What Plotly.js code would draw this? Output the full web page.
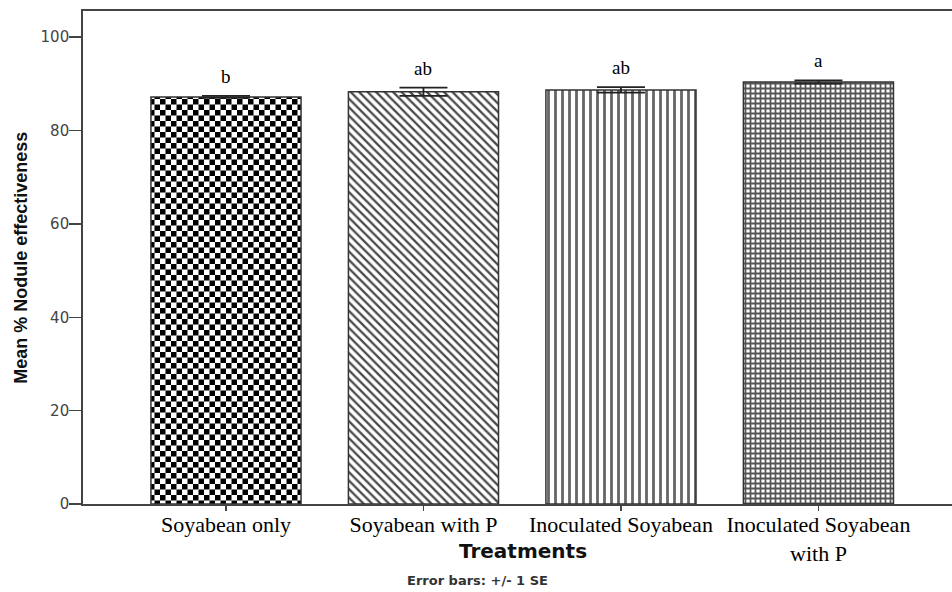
<!DOCTYPE html>
<html>
<head>
<meta charset="utf-8">
<script src="https://cdn.plot.ly/plotly-3.0.1.min.js"></script>
<style>
html,body{margin:0;padding:0;overflow:hidden;background:#fff;}
#chart{width:970px;height:592px;}
</style>
</head>
<body>
<div id="chart"></div>
<script>
// Data
const categories = ["Soyabean only", "Soyabean with P", "Inoculated Soyabean", "Inoculated Soyabean<br>with P"];
const meanValues = [87.2, 88.3, 88.7, 90.4];
const seValues = [0.2, 0.9, 0.6, 0.35];
const groupLetters = ["b", "ab", "ab", "a"];
const yTickVals = [0, 20, 40, 60, 80, 100];

const patternShapes = [".", "\\", "|", "+"];
const patternSizes = [11, 6, 7, 5];
const patternSolidity = [0.5, 0.38, 0.4, 0.58];
const patternFg = ["#000000", "#4a4a4a", "#666666", "#555555"];

const xIdx = categories.map((c, i) => i);

const trace = {
  type: "bar",
  x: xIdx,
  y: meanValues,
  width: 0.76,
  marker: {
    color: "#ffffff",
    line: {color: "#333333", width: 1.5},
    pattern: {
      shape: patternShapes,
      size: patternSizes,
      solidity: patternSolidity,
      fgcolor: patternFg,
      bgcolor: "#ffffff",
      fillmode: "replace"
    }
  },
  error_y: {
    type: "data",
    array: seValues,
    visible: true,
    color: "#222222",
    thickness: 1.8,
    width: 24
  },
  hoverinfo: "none"
};

const letterAnnotations = groupLetters.map((t, i) => ({
  x: i, y: meanValues[i] + seValues[i], xref: "x", yref: "y",
  text: t, showarrow: false, yanchor: "bottom", yshift: 7,
  font: {family: "Liberation Serif, Times New Roman, serif", size: 19, color: "#000"}
}));

const layout = {
  width: 970,
  height: 592,
  margin: {l: 83, r: 7, t: 11, b: 88},
  paper_bgcolor: "#ffffff",
  plot_bgcolor: "#ffffff",
  showlegend: false,
  xaxis: {
    range: [-0.724, 3.732],
    tickmode: "array",
    tickvals: xIdx,
    ticktext: categories,
    ticks: "outside",
    ticklen: 5,
    tickwidth: 1.5,
    tickcolor: "#444",
    ticklabelstandoff: -5,
    showline: true,
    linecolor: "#444",
    linewidth: 1.8,
    mirror: true,
    showgrid: false,
    zeroline: false,
    tickfont: {family: "Liberation Serif, Times New Roman, serif", size: 22, color: "#000"}
  },
  yaxis: {
    range: [0, 105.6],
    tickmode: "array",
    tickvals: yTickVals,
    ticks: "outside",
    ticklen: 12,
    tickwidth: 1.5,
    tickcolor: "#444",
    ticklabelstandoff: -3,
    showline: true,
    linecolor: "#444",
    linewidth: 1.8,
    mirror: true,
    showgrid: false,
    zeroline: false,
    tickfont: {family: "DejaVu Sans, Liberation Sans, sans-serif", size: 15, color: "#444"}
  },
  annotations: letterAnnotations.concat([
    {
      xref: "paper", yref: "paper", x: 0.5, y: 0, yshift: -47,
      text: "<b>Treatments</b>", showarrow: false, xanchor: "center", yanchor: "middle",
      font: {family: "DejaVu Sans, Liberation Sans, sans-serif", size: 20, color: "#111"}
    },
    {
      xref: "paper", yref: "paper", x: -0.0725, y: 0.5, xshift: 1,
      text: "<b>Mean % Nodule effectiveness</b>", showarrow: false, textangle: -90,
      xanchor: "center", yanchor: "middle",
      font: {family: "Liberation Sans, Arial, sans-serif", size: 18, color: "#111"}
    },
    {
      xref: "paper", yref: "paper", x: 0.448, y: 0, yshift: -76,
      text: "<b>Error bars: +/- 1 SE</b>", showarrow: false, xanchor: "center", yanchor: "middle",
      font: {family: "DejaVu Sans, Liberation Sans, sans-serif", size: 13, color: "#333"}
    }
  ])
};

Plotly.newPlot("chart", [trace], layout, {staticPlot: true, displayModeBar: false}).then(function (gd) {
  // restyle the dot pattern of the first bar into a checkerboard tile
  const NS = "http://www.w3.org/2000/svg";
  gd.querySelectorAll("pattern").forEach(function (p) {
    if (p.querySelector("circle")) {
      const w = parseFloat(p.getAttribute("width"));
      while (p.firstChild) p.removeChild(p.firstChild);
      const bg = document.createElementNS(NS, "rect");
      bg.setAttribute("x", 0); bg.setAttribute("y", 0);
      bg.setAttribute("width", w); bg.setAttribute("height", w);
      bg.setAttribute("fill", "#ffffff");
      p.appendChild(bg);
      [[0, 0], [w / 2, w / 2]].forEach(function (o) {
        const r = document.createElementNS(NS, "rect");
        r.setAttribute("x", o[0]); r.setAttribute("y", o[1]);
        r.setAttribute("width", w / 2); r.setAttribute("height", w / 2);
        r.setAttribute("fill", "#000000");
        p.appendChild(r);
      });
    }
  });
});
</script>
</body>
</html>
